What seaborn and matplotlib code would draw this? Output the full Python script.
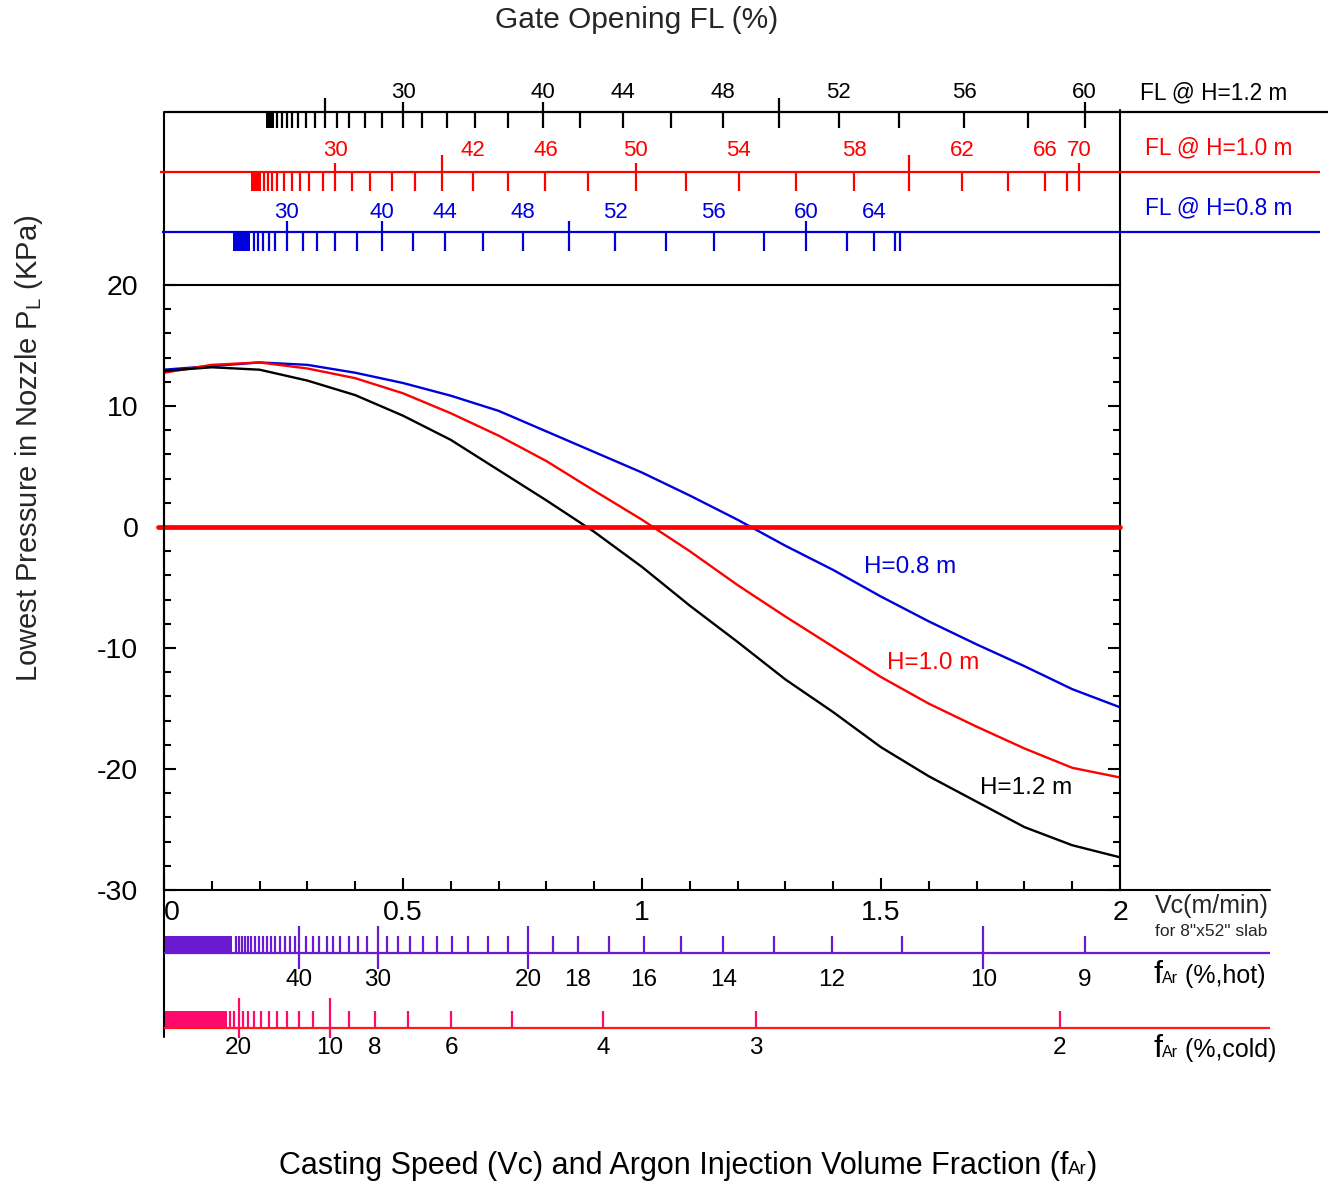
import numpy as np
import pandas as pd
import matplotlib
matplotlib.use("Agg")
import matplotlib.pyplot as plt
from matplotlib.ticker import MultipleLocator, FixedLocator
import seaborn as sns

# ---------------- data ----------------
vc = [0.0, 0.1, 0.2, 0.3, 0.4, 0.5, 0.6, 0.7, 0.8, 0.9, 1.0,
      1.1, 1.2, 1.3, 1.4, 1.5, 1.6, 1.7, 1.8, 1.9, 2.0]
p_h08 = [13.0, 13.3, 13.6, 13.4, 12.75, 11.9, 10.85, 9.6, 7.9, 6.2, 4.5,
         2.6, 0.6, -1.55, -3.55, -5.75, -7.8, -9.7, -11.5, -13.4, -14.9]
p_h10 = [12.75, 13.4, 13.6, 13.1, 12.3, 11.05, 9.4, 7.55, 5.45, 3.0, 0.6,
         -2.0, -4.8, -7.4, -9.9, -12.4, -14.6, -16.5, -18.3, -19.9, -20.7]
p_h12 = [12.9, 13.2, 13.0, 12.1, 10.9, 9.2, 7.2, 4.7, 2.2, -0.4, -3.3,
         -6.5, -9.5, -12.6, -15.3, -18.2, -20.6, -22.7, -24.8, -26.3, -27.3]
series_names = ["H=0.8 m", "H=1.0 m", "H=1.2 m"]

# Gate opening FL scales: FL value -> casting speed position
fl12_vals = [6, 8, 10, 12, 14, 16, 18, 20, 22, 24, 26, 28, 30, 32, 34, 36, 38,
             40, 42, 44, 46, 48, 50, 52, 54, 56, 58, 60]
fl12_vc = [0.236, 0.246, 0.257, 0.268, 0.281, 0.297, 0.316, 0.336, 0.362, 0.388,
           0.420, 0.456, 0.500, 0.540, 0.592, 0.651, 0.719, 0.792, 0.870, 0.960,
           1.061, 1.169, 1.287, 1.412, 1.538, 1.674, 1.807, 1.926]
fl12_labels = [30, 40, 44, 48, 52, 56, 60]
fl12_block = (0.213, 0.230)

fl10_vals = [12, 14, 16, 18, 20, 22, 24, 26, 28, 30, 32, 34, 36, 38, 40, 42, 44,
             46, 48, 50, 52, 54, 56, 58, 60, 62, 64, 66, 68, 70]
fl10_vc = [0.209, 0.218, 0.225, 0.236, 0.252, 0.268, 0.284, 0.303, 0.332, 0.358,
           0.393, 0.430, 0.477, 0.525, 0.582, 0.646, 0.719, 0.798, 0.887, 0.987,
           1.092, 1.202, 1.322, 1.444, 1.559, 1.670, 1.765, 1.843, 1.889, 1.915]
fl10_labels = [30, 42, 46, 50, 54, 58, 62, 66, 70]
fl10_block = (0.182, 0.203)

fl08_vals = [20, 22, 24, 26, 28, 30, 32, 34, 36, 38, 40, 42, 44, 46, 48, 50, 52,
             54, 56, 58, 60, 62, 64, 66, 68]
fl08_vc = [0.188, 0.197, 0.208, 0.220, 0.232, 0.257, 0.290, 0.320, 0.358, 0.404,
           0.456, 0.520, 0.588, 0.667, 0.751, 0.847, 0.944, 1.051, 1.150, 1.255,
           1.343, 1.429, 1.485, 1.529, 1.540]
fl08_labels = [30, 40, 44, 48, 52, 56, 60, 64]
fl08_block = (0.145, 0.180)

# Argon volume fraction scales: fAr value -> casting speed position
far_hot_vals = [56, 55, 54, 53, 52, 51, 50, 49, 48, 47, 46, 45, 44, 43, 42, 41,
                40, 39, 38, 37, 36, 35, 34, 33, 32, 31, 30, 29, 28, 27, 26, 25,
                24, 23, 22, 21, 20, 19, 18, 17, 16, 15, 14, 13, 12, 11, 10, 9]
far_hot_vc = [0.150, 0.156, 0.163, 0.169, 0.176, 0.183, 0.191, 0.199, 0.207, 0.215,
              0.224, 0.233, 0.243, 0.253, 0.263, 0.274, 0.283, 0.298, 0.311, 0.325,
              0.340, 0.354, 0.369, 0.387, 0.405, 0.425, 0.447, 0.467, 0.489, 0.515,
              0.541, 0.571, 0.603, 0.636, 0.677, 0.719, 0.762, 0.813, 0.866, 0.930,
              1.004, 1.082, 1.170, 1.276, 1.397, 1.544, 1.714, 1.927]
far_hot_labels = [40, 30, 20, 18, 16, 14, 12, 10, 9]
far_hot_block = (0.0, 0.142)

far_cold_vals = [22, 21, 20, 19, 18, 17, 16, 15, 14, 13, 12, 11, 10, 9, 8, 7, 6,
                 5, 4, 3, 2]
far_cold_vc = [0.138, 0.146, 0.156, 0.165, 0.176, 0.189, 0.203, 0.219, 0.237, 0.258,
               0.283, 0.311, 0.347, 0.388, 0.441, 0.510, 0.601, 0.728, 0.919, 1.238,
               1.874]
far_cold_labels = [20, 10, 8, 6, 4, 3, 2]
far_cold_block = (0.0, 0.131)

# ---------------- style ----------------
sns.set_style("white")
plt.rcParams["font.family"] = ["Liberation Sans", "DejaVu Sans"]
plt.rcParams["mathtext.fontset"] = "custom"
plt.rcParams["mathtext.rm"] = "Liberation Sans"
plt.rcParams["mathtext.it"] = "Liberation Sans:italic"
plt.rcParams["mathtext.bf"] = "Liberation Sans:bold"

BLUE = "#0000dd"
RED = "#ff0000"
PURPLE = "#6a1bd1"
PINK = "#ff0a6c"
COLD_LINE = "#ff1a1a"

W, H = 1328, 1185
fig = plt.figure(figsize=(W / 100, H / 100), dpi=100)
L, R, T, B = 164, 1120, 285, 890
ax = fig.add_axes([L / W, 1 - B / H, (R - L) / W, (B - T) / H])

df = pd.DataFrame({
    "Vc": vc * 3,
    "P": p_h08 + p_h10 + p_h12,
    "H": [series_names[0]] * len(vc) + [series_names[1]] * len(vc) + [series_names[2]] * len(vc),
})
palette = {series_names[0]: BLUE, series_names[1]: RED, series_names[2]: "black"}
sns.lineplot(data=df, x="Vc", y="P", hue="H", palette=palette, ax=ax,
             legend=False, linewidth=1.7)
ax.axhline(0, xmin=-6 / (R - L), xmax=1, color=RED, lw=3.4, clip_on=False, zorder=5)

ax.set_xlim(0, 2)
ax.set_ylim(-30, 20)
ax.set_xlabel("")
ax.set_ylabel("")
for s in ax.spines.values():
    s.set_visible(True)
    s.set_color("black")
    s.set_linewidth(1.5)
ax.xaxis.set_major_locator(FixedLocator([0, 0.5, 1, 1.5, 2]))
ax.xaxis.set_minor_locator(MultipleLocator(0.1))
ax.yaxis.set_major_locator(MultipleLocator(10))
ax.yaxis.set_minor_locator(MultipleLocator(2))
ax.tick_params(axis="y", which="both", direction="in", left=True, right=True,
               width=1.5, labelsize=20.5, pad=18.5, colors="black")
ax.tick_params(axis="y", which="major", length=8.5)
ax.tick_params(axis="y", which="minor", length=5.3)
ax.tick_params(axis="x", which="both", direction="in", bottom=True, top=False,
               width=1.5, labelsize=20.5, pad=7, colors="black")
ax.tick_params(axis="x", which="major", length=9)
ax.tick_params(axis="x", which="minor", length=6.5)
ax.set_xticklabels(["0", "0.5", "1", "1.5", "2"])
ax.get_xticklabels()[0].set_horizontalalignment("left")
ax.set_yticklabels([str(int(v)) for v in ax.get_yticks()])

ax.text(1.56, -3.3, series_names[0], color=BLUE, fontsize=17.5, ha="center", va="center")
ax.text(1.609, -11.2, series_names[1], color=RED, fontsize=17.5, ha="center", va="center")
ax.text(1.803, -21.6, series_names[2], color="black", fontsize=17.5, ha="center", va="center")

# ---------------- overlay for the auxiliary scales ----------------
ax_o = fig.add_axes([0, 0, 1, 1], facecolor="none")
ax_o.set_axis_off()
sc = (R - L) / 2.0
ax_o.set_xlim(-L / sc, (W - L) / sc)
ax_o.set_ylim(H, 0)


def px2vc(px):
    return (px - L) / sc


def draw_scale(vals, vcs, labels, block, y_line, y_lo, y_hi, special,
               tick_color, line_color, text_color, label_y, x0_px, x1_px, fs):
    ax_o.plot([px2vc(x0_px), px2vc(x1_px)], [y_line, y_line], color=line_color,
              lw=1.6, solid_capstyle="butt")
    for v, x in zip(vals, vcs):
        a, b = special.get(v, (y_lo, y_hi))
        ax_o.plot([x, x], [a, b], color=tick_color, lw=1.6, solid_capstyle="butt")
    if block is not None:
        ax_o.fill_betweenx([y_lo, y_hi], block[0], block[1], color=tick_color, lw=0)
    for v in labels:
        x = vcs[vals.index(v)]
        ax_o.text(x, label_y, str(v), color=text_color, fontsize=fs,
                  ha="center", va="center")


# frame extensions
ax_o.plot([px2vc(L), px2vc(L)], [112, 1037], color="black", lw=1.5)
ax_o.plot([px2vc(R), px2vc(R)], [110, T], color="black", lw=1.5)
ax_o.plot([px2vc(R), px2vc(1270)], [B, B], color="black", lw=1.5)

# top FL scales
draw_scale(fl12_vals, fl12_vc, fl12_labels, fl12_block, 112, 112, 128,
           {20: (98, 128), 50: (98, 128), 30: (102, 128), 40: (102, 128), 60: (102, 128)},
           "black", "black", "black", 93, L, W, 16)
draw_scale(fl10_vals, fl10_vc, fl10_labels, fl10_block, 172, 172, 191,
           {40: (155, 191), 60: (155, 191), 30: (163, 191), 50: (163, 191), 70: (163, 191)},
           RED, RED, RED, 151, 160, 1320, 16)
draw_scale(fl08_vals, fl08_vc, fl08_labels, fl08_block, 232, 232, 251,
           {30: (221, 251), 40: (221, 251), 50: (221, 251), 60: (221, 251)},
           BLUE, BLUE, BLUE, 212, 162, 1320, 16)

# bottom fAr scales
draw_scale(far_hot_vals, far_hot_vc, far_hot_labels, far_hot_block, 953, 936, 953,
           {40: (926, 969), 30: (926, 969), 20: (926, 969), 10: (926, 969)},
           PURPLE, PURPLE, "black", 980, L, 1270, 17.5)
draw_scale(far_cold_vals, far_cold_vc, far_cold_labels, far_cold_block, 1028, 1011, 1028,
           {20: (998, 1038), 10: (998, 1038)},
           PINK, COLD_LINE, "black", 1048, L, 1270, 17.5)

# ---------------- texts ----------------
def fx(px):
    return px / W


def fy(py):
    return 1 - py / H


renderer = fig.canvas.get_renderer()


def rich_text(pieces, x_px, y_px, ha="left", color="black"):
    texts, widths = [], []
    for s, fs in pieces:
        t = fig.text(0, 0, s, fontsize=fs, color=color, ha="left", va="baseline")
        widths.append(t.get_window_extent(renderer).width)
        texts.append(t)
    total = sum(widths)
    x = x_px - (total / 2.0 if ha == "center" else 0.0)
    for t, w in zip(texts, widths):
        t.set_position((fx(x), fy(y_px)))
        x += w


fig.text(fx(637), fy(20), "Gate Opening FL (%)", fontsize=21.5, ha="center", va="center")
fig.text(fx(29), fy(448), r"Lowest Pressure in Nozzle P$_{\mathrm{L}}$ (KPa)",
         fontsize=21, rotation=90, ha="center", va="center")
rich_text([("Casting Speed (Vc) and Argon Injection Volume Fraction (f", 22),
           ("Ar", 13.5), (")", 22)], 688, 1174, ha="center")

fig.text(fx(1140), fy(93), "FL @ H=1.2 m", fontsize=16.3, color="black", ha="left", va="center")
fig.text(fx(1145), fy(148), "FL @ H=1.0 m", fontsize=16.3, color=RED, ha="left", va="center")
fig.text(fx(1145), fy(208), "FL @ H=0.8 m", fontsize=16.3, color=BLUE, ha="left", va="center")

fig.text(fx(1155), fy(906), "Vc(m/min)", fontsize=18, ha="left", va="center")
fig.text(fx(1155), fy(932), 'for 8"x52" slab', fontsize=12.5, ha="left", va="center")
rich_text([("f", 23), ("Ar", 11.5), (" (%,hot)", 18)], 1153, 983)
rich_text([("f", 23), ("Ar", 11.5), (" (%,cold)", 18)], 1153, 1057)

fig.savefig("out.png", dpi=100)
